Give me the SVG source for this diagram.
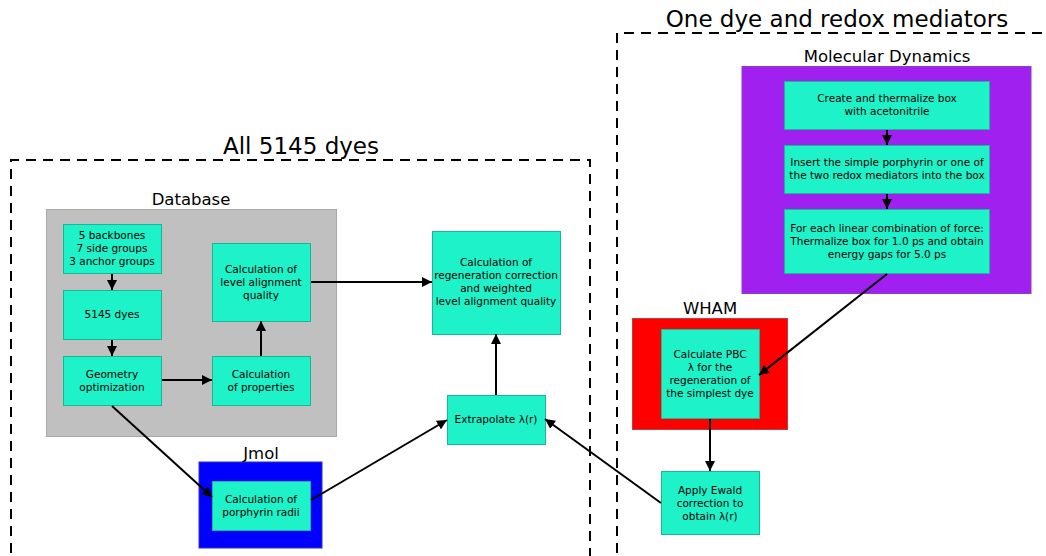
<svg xmlns="http://www.w3.org/2000/svg" width="1046" height="556" viewBox="0 0 1046 556">
<defs>
<marker id="ah" viewBox="0 0 10 10" refX="10" refY="5" markerWidth="10" markerHeight="10" markerUnits="userSpaceOnUse" orient="auto">
<path d="M0,0 L10,5 L0,10 z" fill="#000"/>
</marker>
<style>
text{font-family:"DejaVu Sans","Liberation Sans",sans-serif;fill:#000;text-anchor:middle}
.t{font-size:10.5px}
.lab{font-size:16.5px}
.big{font-size:23px}
.node{fill:#1df2c8;stroke:#18b894;stroke-width:1}
.dash{fill:none;stroke:#000;stroke-width:2;stroke-dasharray:10,7}
.c{stroke:#000;stroke-width:2;fill:none;marker-end:url(#ah)}
</style>
</defs>
<rect width="1046" height="556" fill="#fff"/>

<g id="group-all">
<path class="dash" d="M11,570 L11,160 L590,160 L590,570"/>
<text class="big" x="301" y="154">All 5145 dyes</text>
</g>
<g id="group-one">
<path class="dash" d="M617,570 L617,33 L1060,33"/>
<text class="big" x="837" y="27">One dye and redox mediators</text>
</g>

<g id="database">
<rect x="46.5" y="209.5" width="290" height="227" fill="#c0c0c0" stroke="#a8a8a8"/>
<text class="lab" x="191" y="205">Database</text>
</g>
<g id="jmol">
<rect x="199" y="462" width="123" height="86" fill="#0000ff" stroke="#3030c0"/>
<text class="lab" x="261" y="459">Jmol</text>
</g>
<g id="md">
<rect x="742" y="66.5" width="289" height="227" fill="#a020f0" stroke="#8a40c0"/>
<text class="lab" x="887" y="62">Molecular Dynamics</text>
</g>
<g id="wham">
<rect x="632.5" y="318.5" width="155" height="111" fill="#ff0000" stroke="#c04040"/>
<text class="lab" x="710" y="314">WHAM</text>
</g>

<g id="n-backbones">
<rect class="node" x="63.5" y="224.5" width="98" height="49"/>
<text class="t" x="112" y="239">5 backbones</text>
<text class="t" x="112" y="252">7 side groups</text>
<text class="t" x="112" y="265">3 anchor groups</text>
</g>
<g id="n-dyes">
<rect class="node" x="63.5" y="290.5" width="98" height="49"/>
<text class="t" x="112" y="318">5145 dyes</text>
</g>
<g id="n-geom">
<rect class="node" x="63.5" y="356.5" width="98" height="49"/>
<text class="t" x="112" y="378">Geometry</text>
<text class="t" x="112" y="391">optimization</text>
</g>
<g id="n-level">
<rect class="node" x="212.5" y="243.5" width="98" height="78"/>
<text class="t" x="261" y="273">Calculation of</text>
<text class="t" x="261" y="286">level alignment</text>
<text class="t" x="261" y="299">quality</text>
</g>
<g id="n-props">
<rect class="node" x="212.5" y="356.5" width="98" height="49"/>
<text class="t" x="261" y="378">Calculation</text>
<text class="t" x="261" y="391">of properties</text>
</g>
<g id="n-regen">
<rect class="node" x="432.5" y="231.5" width="128" height="103"/>
<text class="t" x="496" y="266">Calculation of</text>
<text class="t" x="496" y="279">regeneration correction</text>
<text class="t" x="496" y="292">and weighted</text>
<text class="t" x="496" y="305">level alignment quality</text>
</g>
<g id="n-extrap">
<rect class="node" x="447.5" y="395.5" width="98" height="49"/>
<text class="t" x="496" y="423">Extrapolate λ(r)</text>
</g>
<g id="n-radii">
<rect class="node" x="212.5" y="481.5" width="98" height="49"/>
<text class="t" x="261" y="503">Calculation of</text>
<text class="t" x="261" y="516">porphyrin radii</text>
</g>
<g id="n-create">
<rect class="node" x="784.5" y="81.5" width="205" height="48"/>
<text class="t" x="887" y="102">Create and thermalize box</text>
<text class="t" x="887" y="115">with acetonitrile</text>
</g>
<g id="n-insert">
<rect class="node" x="784.5" y="145.5" width="205" height="48"/>
<text class="t" x="887" y="166">Insert the simple porphyrin or one of</text>
<text class="t" x="887" y="179">the two redox mediators into the box</text>
</g>
<g id="n-foreach">
<rect class="node" x="784.5" y="209.5" width="205" height="64"/>
<text class="t" x="887" y="232">For each linear combination of force:</text>
<text class="t" x="887" y="245">Thermalize box for 1.0 ps and obtain</text>
<text class="t" x="887" y="258">energy gaps for 5.0 ps</text>
</g>
<g id="n-pbc">
<rect class="node" x="661.5" y="329.5" width="98" height="89"/>
<text class="t" x="710" y="358">Calculate PBC</text>
<text class="t" x="710" y="371">λ for the</text>
<text class="t" x="710" y="384">regeneration of</text>
<text class="t" x="710" y="397">the simplest dye</text>
</g>
<g id="n-ewald">
<rect class="node" x="661.5" y="471.5" width="98" height="63"/>
<text class="t" x="710" y="494">Apply Ewald</text>
<text class="t" x="710" y="507">correction to</text>
<text class="t" x="710" y="520">obtain λ(r)</text>
</g>

<g id="connectors">
<line class="c" x1="112" y1="274" x2="112" y2="290"/>
<line class="c" x1="112" y1="340" x2="112" y2="356"/>
<line class="c" x1="162" y1="380" x2="212" y2="380"/>
<line class="c" x1="261" y1="356" x2="261" y2="321"/>
<line class="c" x1="311" y1="282" x2="432" y2="282"/>
<line class="c" x1="496" y1="395" x2="496" y2="334"/>
<line class="c" x1="112" y1="406" x2="212" y2="497"/>
<line class="c" x1="311" y1="500" x2="447" y2="420"/>
<line class="c" x1="661" y1="503" x2="545" y2="419"/>
<line class="c" x1="887" y1="274" x2="759" y2="375"/>
<line class="c" x1="710" y1="419" x2="710" y2="471"/>
<line class="c" x1="887" y1="130" x2="887" y2="145"/>
<line class="c" x1="887" y1="194" x2="887" y2="209"/>
</g>
</svg>
